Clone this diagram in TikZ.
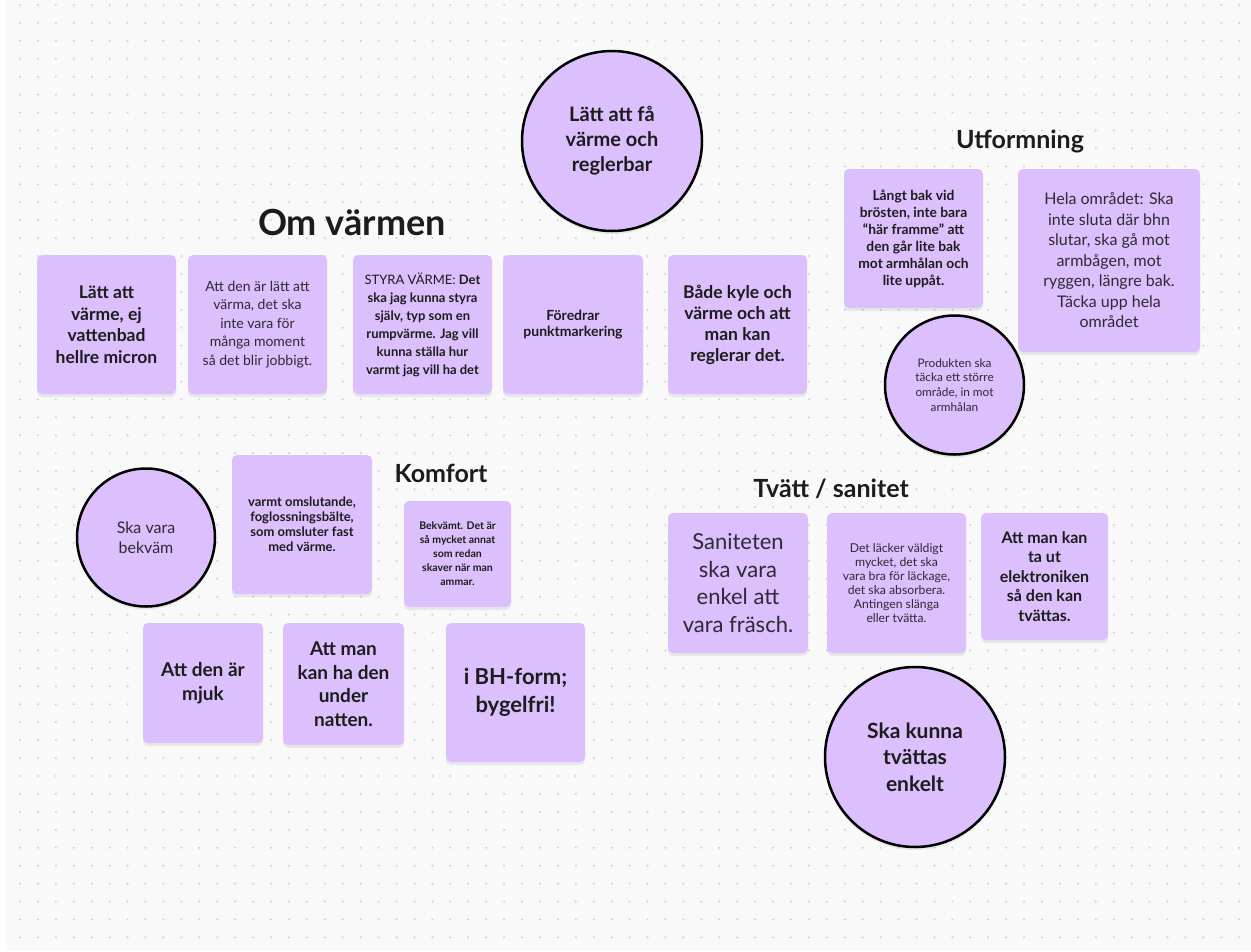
\documentclass[tikz,border=0pt]{standalone}
\usepackage{fontspec}
\setmainfont{Lato}
\usetikzlibrary{shadows}
\definecolor{board}{HTML}{F9F9F9}
\definecolor{dotc}{HTML}{CFCFCF}
\definecolor{notefill}{HTML}{DCBFFD}
\definecolor{ink}{HTML}{1C1C1C}
\definecolor{softink}{HTML}{2E2A33}
\newcommand\setfs[2]{\fontsize{#1}{#2}\selectfont}
\tikzset{
  note/.style={rectangle, rounded corners=5pt, fill=notefill, align=center,
    inner sep=0pt, text=ink,
    drop shadow={shadow xshift=0pt, shadow yshift=-3pt, opacity=.07, fill=black}},
  blob/.style={circle, fill=notefill, draw=black, line width=2.5pt, align=center,
    inner sep=0pt, text=ink,
    drop shadow={shadow xshift=0pt, shadow yshift=-3pt, opacity=.07, fill=black}},
  heading/.style={text=ink, inner sep=0pt},
}
\begin{document}
\begin{tikzpicture}[x=1pt, y=-1pt]
  % board and dot grid
  \fill[white] (0,0) rectangle (1251,951);
  \fill[board] (6,0) rectangle (1251,951);
  \useasboundingbox (0,0) rectangle (1251,951);
  \foreach \i in {0,...,68}
    \foreach \j in {0,...,52}
      \fill[dotc] ({20+17.93*\i},{5+17.93*\j}) circle[radius=1.1pt];

  % ---- Om värmen ----
  \node[heading, font=\bfseries\setfs{36}{40}] (hvarme) at (352,222) {Om värmen};
  \node[blob, minimum size=180pt, font=\bfseries\setfs{20}{25}] (cvarme) at (612,141)
    {Lätt att få\\värme och\\reglerbar};
  \node[note, minimum width=139pt, minimum height=139pt, font=\bfseries\setfs{17.5}{21.5}] (v1) at (106.5,324.5)
    {Lätt att\\värme, ej\\vattenbad\\hellre micron};
  \node[note, minimum width=139pt, minimum height=139pt, font=\setfs{14}{18.5}, text=softink] (v2) at (257.5,324.5)
    {Att den är lätt att\\värma, det ska\\inte vara för\\många moment\\så det blir jobbigt.};
  \node[note, minimum width=139pt, minimum height=139pt, font=\setfs{13}{18}] (v3) at (422.5,324.5)
    {STYRA VÄRME: \textbf{Det}\\\textbf{ska jag kunna styra}\\\textbf{själv, typ som en}\\\textbf{rumpvärme. Jag vill}\\\textbf{kunna ställa hur}\\\textbf{varmt jag vill ha det}};
  \node[note, minimum width=140pt, minimum height=139pt, font=\bfseries\setfs{14}{16.5}] (v4) at (573,324.5)
    {Föredrar\\punktmarkering};
  \node[note, minimum width=139pt, minimum height=139pt, font=\bfseries\setfs{17.5}{21}] (v5) at (737.5,324.5)
    {Både kyle och\\värme och att\\man kan\\reglerar det.};

  % ---- Utformning ----
  \node[heading, font=\bfseries\setfs{25}{28}] (hutf) at (1020,141) {Utformning};
  \node[note, minimum width=139pt, minimum height=139pt, font=\bfseries\setfs{13.8}{17}] (u1) at (913.5,238.5)
    {Långt bak vid\\brösten, inte bara\\“här framme” att\\den går lite bak\\mot armhålan och\\lite uppåt.};
  \node[note, minimum width=182pt, minimum height=183pt, font=\setfs{16}{20.5}, text=softink] (u2) at (1109,260.5)
    {Hela området: Ska\\inte sluta där bhn\\slutar, ska gå mot\\armbågen, mot\\ryggen, längre bak.\\Täcka upp hela\\området};
  \node[blob, minimum size=139pt, font=\setfs{11.8}{14.7}, text=softink] (uc) at (954.5,385)
    {Produkten ska\\täcka ett större\\område, in mot\\armhålan};

  % ---- Komfort ----
  \node[heading, font=\bfseries\setfs{25}{28}] (hkomf) at (441,473) {Komfort};
  \node[blob, minimum size=138pt, font=\setfs{16}{20}, text=softink] (kc) at (146,537.5)
    {Ska vara\\bekväm};
  \node[note, minimum width=140pt, minimum height=139pt, font=\bfseries\setfs{13}{15}] (k1) at (302,524.5)
    {varmt omslutande,\\foglossningsbälte,\\som omsluter fast\\med värme.};
  \node[note, minimum width=107pt, minimum height=106pt, font=\bfseries\setfs{10.5}{14}] (k2) at (457.5,554)
    {Bekvämt. Det är\\så mycket annat\\som redan\\skaver när man\\ammar.};
  \node[note, minimum width=120pt, minimum height=120pt, font=\bfseries\setfs{19}{24}] (k3) at (203,683)
    {Att den är\\mjuk};
  \node[note, minimum width=121pt, minimum height=122pt, font=\bfseries\setfs{19}{23.5}] (k4) at (343.5,684)
    {Att man\\kan ha den\\under\\natten.};
  \node[note, minimum width=139pt, minimum height=139pt, font=\bfseries\setfs{22}{28}] (k5) at (515.5,692.5)
    {i BH-form;\\bygelfri!};

  % ---- Tvätt / sanitet ----
  \node[heading, font=\bfseries\setfs{25}{28}] (htvatt) at (831,489) {Tvätt / sanitet};
  \node[note, minimum width=140pt, minimum height=140pt, font=\setfs{22}{27.5}, text=softink] (t1) at (738,583)
    {Saniteten\\ska vara\\enkel att\\vara fräsch.};
  \node[note, minimum width=139pt, minimum height=140pt, font=\setfs{12.2}{14}, text=softink] (t2) at (896.5,583)
    {Det läcker väldigt\\mycket, det ska\\vara bra för läckage,\\det ska absorbera.\\Antingen slänga\\eller tvätta.};
  \node[note, minimum width=127pt, minimum height=127pt, font=\bfseries\setfs{16}{19.5}] (t3) at (1044.5,576.5)
    {Att man kan\\ta ut\\elektroniken\\så den kan\\tvättas.};
  \node[blob, minimum size=180pt, font=\bfseries\setfs{21}{26.5}] (tc) at (915,757)
    {Ska kunna\\tvättas\\enkelt};
\end{tikzpicture}
\end{document}
